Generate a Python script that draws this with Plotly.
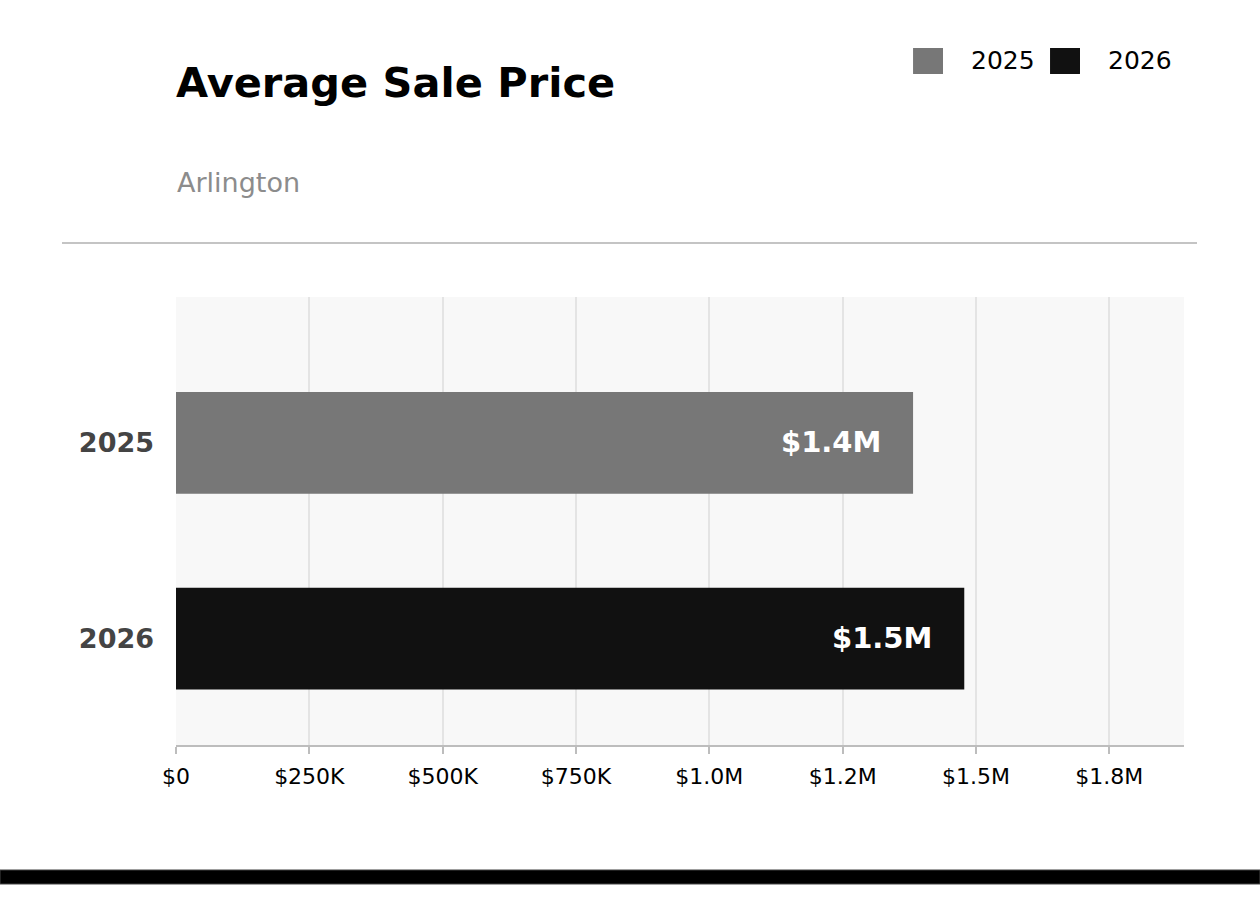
import plotly.graph_objects as go

years = ["2025", "2026"]
avg_price = [1382000, 1478000]
bar_labels = ["$1.4M", "$1.5M"]
bar_colors = ["#777777", "#111111"]
tick_vals = [0, 250000, 500000, 750000, 1000000, 1250000, 1500000, 1750000]
tick_text = ["$0", "$250K", "$500K", "$750K", "$1.0M", "$1.2M", "$1.5M", "$1.8M"]
title_text = "Average Sale Price"
subtitle_text = "Arlington"

FONT = "DejaVu Sans"

fig = go.Figure()
for yr, val, col in zip(years, avg_price, bar_colors):
    fig.add_trace(go.Bar(
        x=[val], y=[yr], orientation="h", name=yr,
        marker=dict(color=col, line=dict(width=0)),
        width=0.52, showlegend=False, hoverinfo="skip",
    ))

annotations = []
for i, (val, lab) in enumerate(zip(avg_price, bar_labels)):
    annotations.append(dict(
        x=val, y=i, xref="x", yref="y", text=lab, showarrow=False,
        xanchor="right", yanchor="middle", xshift=-30, yshift=1,
        font=dict(family=FONT, size=29, color="white", weight="bold"),
    ))

# title & subtitle
annotations.append(dict(
    x=0, y=1.478, xref="paper", yref="paper", text=title_text, showarrow=False,
    xanchor="left", yanchor="middle", xshift=-2,
    font=dict(family=FONT, size=41.5, color="black", weight="bold"),
))
annotations.append(dict(
    x=0, y=1.255, xref="paper", yref="paper", text=subtitle_text, showarrow=False,
    xanchor="left", yanchor="middle", xshift=-1,
    font=dict(family=FONT, size=27, color="#8c8c8c"),
))

shapes = []
# manual legend
leg_x = [0.7312, 0.8671]
for yr, col, lx in zip(years, bar_colors, leg_x):
    shapes.append(dict(type="rect", xref="paper", yref="paper",
                       x0=lx, x1=lx + 0.0297, y0=1.4978, y1=1.5558,
                       fillcolor=col, line=dict(width=0)))
    annotations.append(dict(
        x=lx + 0.0585, y=1.5268, xref="paper", yref="paper", text=yr,
        showarrow=False, xanchor="left", yanchor="middle", xshift=-3,
        font=dict(family=FONT, size=25, color="black"),
    ))

# separator line
shapes.append(dict(type="line", xref="paper", yref="paper",
                   x0=-0.1131, x1=1.0129, y0=1.1205, y1=1.1205,
                   line=dict(color="#c4c4c4", width=2)))
# bottom black band
shapes.append(dict(type="rect", xref="paper", yref="paper",
                   x0=-0.1746, x1=1.0754, y0=-0.3103, y1=-0.279,
                   fillcolor="black", line=dict(color="#444444", width=1)))

fig.update_layout(
    width=1260, height=899,
    margin=dict(l=176, r=76, t=297, b=154),
    paper_bgcolor="white", plot_bgcolor="#f8f8f8",
    barmode="overlay",
    showlegend=False,
    annotations=annotations, shapes=shapes,
    font=dict(family=FONT),
    xaxis=dict(
        range=[0, 1890000], tickvals=tick_vals, ticktext=tick_text,
        showgrid=True, gridcolor="#e4e4e4", gridwidth=2,
        zeroline=False, showline=True, linecolor="#bdbdbd", linewidth=2,
        ticks="outside", ticklen=7, tickcolor="#bdbdbd", tickwidth=2,
        ticklabelstandoff=4,
        tickfont=dict(family=FONT, size=22, color="black"),
        fixedrange=True,
    ),
    yaxis=dict(
        type="category", categoryorder="array", categoryarray=years,
        range=[1.543, -0.745],
        showgrid=False, zeroline=False, showline=False, ticks="",
        ticklabelstandoff=21,
        tickfont=dict(family=FONT, size=27, color="#444444", weight="bold"),
        fixedrange=True,
    ),
)

fig.write_html("out.html")
